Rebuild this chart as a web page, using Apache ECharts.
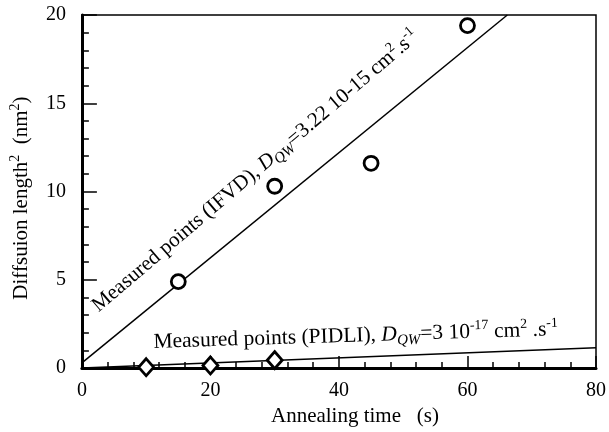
<!DOCTYPE html>
<html>
<head>
<meta charset="utf-8">
<script src="https://cdn.jsdelivr.net/npm/echarts@6/dist/echarts.min.js"></script>
<style>
  html, body { margin: 0; padding: 0; background: #fff; }
  #main { width: 609px; height: 432px; }
</style>
</head>
<body>
<div id="main"></div>
<script>
var FONT = 'Liberation Serif';

// measured points
var ifvdTime = [15, 30, 45, 60];
var ifvdValue = [4.9, 10.3, 11.6, 19.4];
var pidliTime = [10, 20, 30];
var pidliValue = [0.05, 0.15, 0.45];

// fitted lines (end points)
var ifvdFitTime = [0, 66.2];
var ifvdFitValue = [0.3, 20];
var pidliFitTime = [0, 80];
var pidliFitValue = [0, 1.15];

var xTicks = [0, 20, 40, 60, 80];
var yTicks = [0, 5, 10, 15, 20];

function pairs(xs, ys) {
    return xs.map(function (x, i) { return [x, ys[i]]; });
}

var chart = echarts.init(document.getElementById('main'), null, { renderer: 'canvas' });

var sup = { fontFamily: FONT, fontSize: 14, lineHeight: 14, verticalAlign: 'top', color: '#000' };
var sub = { fontFamily: FONT, fontSize: 15, lineHeight: 15, verticalAlign: 'bottom', fontStyle: 'italic', color: '#000' };
var norm = { fontFamily: FONT, fontSize: 21, lineHeight: 27, color: '#000' };
var ital = { fontFamily: FONT, fontSize: 21, lineHeight: 27, fontStyle: 'italic', color: '#000' };
var norm2 = { fontFamily: FONT, fontSize: 21.5, lineHeight: 27, color: '#000' };
var ital2 = { fontFamily: FONT, fontSize: 21.5, lineHeight: 27, fontStyle: 'italic', color: '#000' };

var option = {
    animation: false,
    backgroundColor: '#fff',
    grid: {
        left: 79, right: 11, top: 15, bottom: 60,
        show: true, borderColor: '#000', borderWidth: 1.5
    },
    xAxis: {
        type: 'value',
        min: xTicks[0], max: xTicks[xTicks.length - 1], interval: 20,
        name: 'Annealing time   (s)',
        nameLocation: 'middle',
        nameGap: 37,
        nameTextStyle: { fontFamily: FONT, fontSize: 21, color: '#000', padding: [0, 0, 0, 32] },
        axisLine: { show: true, lineStyle: { color: '#000', width: 3 } },
        axisTick: { show: true, inside: true, length: 12, lineStyle: { color: '#000', width: 1.5 } },
        minorTick: { show: true, splitNumber: 5, length: 6, lineStyle: { color: '#000', width: 1.5 } },
        axisLabel: { fontFamily: FONT, fontSize: 20, color: '#000', margin: 13 },
        splitLine: { show: false }
    },
    yAxis: {
        type: 'value',
        min: yTicks[0], max: yTicks[yTicks.length - 1], interval: 5,
        name: 'Diffsuion length{sup|2}  (nm{sup|2})',
        nameLocation: 'middle',
        nameGap: 38,
        nameTextStyle: {
            fontFamily: FONT, fontSize: 21, color: '#000', lineHeight: 27,
            padding: [0, 13, 0, 0],
            rich: { sup: sup }
        },
        axisLine: { show: true, lineStyle: { color: '#000', width: 3 } },
        axisTick: { show: true, inside: true, length: 15, lineStyle: { color: '#000', width: 1.5 } },
        minorTick: { show: true, splitNumber: 5, length: 7, lineStyle: { color: '#000', width: 1.5 } },
        axisLabel: { fontFamily: FONT, fontSize: 20, color: '#000', margin: 16 },
        splitLine: { show: false }
    },
    series: [
        {
            type: 'line', name: 'IFVD fit',
            data: pairs(ifvdFitTime, ifvdFitValue),
            showSymbol: false, symbol: 'none',
            lineStyle: { color: '#000', width: 1.5 }, z: 2
        },
        {
            type: 'line', name: 'PIDLI fit',
            data: pairs(pidliFitTime, pidliFitValue),
            showSymbol: false, symbol: 'none',
            lineStyle: { color: '#000', width: 1.5 }, z: 2
        },
        {
            type: 'scatter', name: 'IFVD',
            data: pairs(ifvdTime, ifvdValue),
            symbol: 'circle', symbolSize: 14,
            itemStyle: { color: '#fff', borderColor: '#000', borderWidth: 2.8, opacity: 1 }, z: 5
        },
        {
            type: 'scatter', name: 'PIDLI',
            data: pairs(pidliTime, pidliValue),
            symbol: 'diamond', symbolSize: [15, 17],
            itemStyle: { color: '#fff', borderColor: '#000', borderWidth: 2.8, opacity: 1 }, z: 5
        }
    ]
};

chart.setOption(option);

// annotation texts, anchored in data coordinates
var p1 = chart.convertToPixel({ gridIndex: 0 }, [3.4, 2.8]);
var p2 = chart.convertToPixel({ gridIndex: 0 }, [11.2, 0.7]);

chart.setOption({
    graphic: [
        {
            type: 'text', x: p1[0], y: p1[1],
            rotation: 40.5 * Math.PI / 180,
            style: {
                text: '{n|Measured points (IFVD), }{i|D}{s|QW}{n|=3.22 10-15 cm}{p|2}{n|.s}{p|-1}',
                align: 'left', verticalAlign: 'bottom',
                rich: { n: norm, i: ital, s: sub, p: sup }
            },
            z: 10
        },
        {
            type: 'text', x: p2[0], y: p2[1],
            rotation: 1.8 * Math.PI / 180,
            style: {
                text: '{n|Measured points (PIDLI), }{i|D}{s|QW}{n|=3 10}{p|-17}{n| cm}{p|2}{n| .s}{p|-1}',
                align: 'left', verticalAlign: 'bottom',
                rich: { n: norm2, i: ital2, s: sub, p: sup }
            },
            z: 10
        }
    ]
});
</script>
</body>
</html>
